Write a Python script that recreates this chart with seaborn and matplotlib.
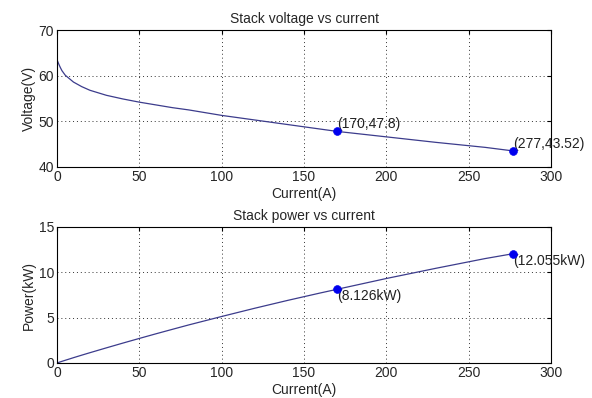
import matplotlib
matplotlib.use("Agg")
import matplotlib.pyplot as plt
import seaborn as sns
import pandas as pd

current = [0, 1, 2, 3, 5, 8, 10, 15, 20, 30, 40, 50, 60, 70, 80, 100, 120, 140, 160, 170, 200, 230, 260, 277]
voltage = [63.5, 62.6, 61.8, 61.1, 60.1, 59.2, 58.6, 57.6, 56.8, 55.7, 54.9, 54.2, 53.6, 53.0, 52.5, 51.3,
           50.3, 49.3, 48.3, 47.8, 46.6, 45.4, 44.3, 43.52]
power = [0, 0.063, 0.124, 0.183, 0.30, 0.47, 0.586, 0.864, 1.136, 1.671, 2.196, 2.71, 3.216, 3.71, 4.2,
         5.13, 6.036, 6.902, 7.728, 8.126, 9.32, 10.442, 11.518, 12.055]
mark_current = [170, 277]
mark_voltage = [47.8, 43.52]
mark_power = [8.126, 12.055]
volt_labels = ["(170,47.8)", "(277,43.52)"]
power_labels = ["(8.126kW)", "(12.055kW)"]

sns.set_style("white")
plt.rcParams['font.family'] = ['Liberation Sans', 'DejaVu Sans']

df = pd.DataFrame({"current": current, "voltage": voltage, "power": power})
mk = pd.DataFrame({"current": mark_current, "voltage": mark_voltage, "power": mark_power})

fig = plt.figure(figsize=(5.92, 3.98), dpi=100)
ax1 = fig.add_axes([57/592, 1 - 167/398, (551-57)/592, (167-30)/398])
ax2 = fig.add_axes([57/592, 1 - 363/398, (551-57)/592, (363-227)/398])

line_color = "#3c3c8c"
fs = 10

for ax, ycol, ylim, yticks, ylabel, title, labels, va in [
    (ax1, "voltage", (40, 70), [40, 50, 60, 70], "Voltage(V)", "Stack voltage vs current", volt_labels, "bottom"),
    (ax2, "power", (0, 15), [0, 5, 10, 15], "Power(kW)", "Stack power vs current", power_labels, "top"),
]:
    sns.lineplot(data=df, x="current", y=ycol, ax=ax, color=line_color, linewidth=0.9)
    sns.scatterplot(data=mk, x="current", y=ycol, ax=ax, color="#0000ee", s=32, edgecolor="#0000ee", zorder=5)
    for xv, yv, t in zip(mk["current"], mk[ycol], labels):
        ax.text(xv, yv, t, fontsize=fs, va=va, ha="left", color="#222222")
    ax.set_xlim(0, 300)
    ax.set_ylim(*ylim)
    ax.set_xticks([0, 50, 100, 150, 200, 250, 300])
    ax.set_yticks(yticks)
    ax.set_xlabel("Current(A)", fontsize=fs, labelpad=2.5)
    ax.set_ylabel(ylabel, fontsize=fs, labelpad=2)
    ax.set_title(title, fontsize=fs, pad=5)
    ax.grid(True, linestyle=(0, (1, 3)), color="#333333", linewidth=0.7)
    ax.tick_params(direction="in", top=True, right=True, length=3, labelsize=fs, pad=2, color="black")
    for s in ax.spines.values():
        s.set_color("black")
        s.set_linewidth(0.8)

fig.savefig("out.png", dpi=100)
